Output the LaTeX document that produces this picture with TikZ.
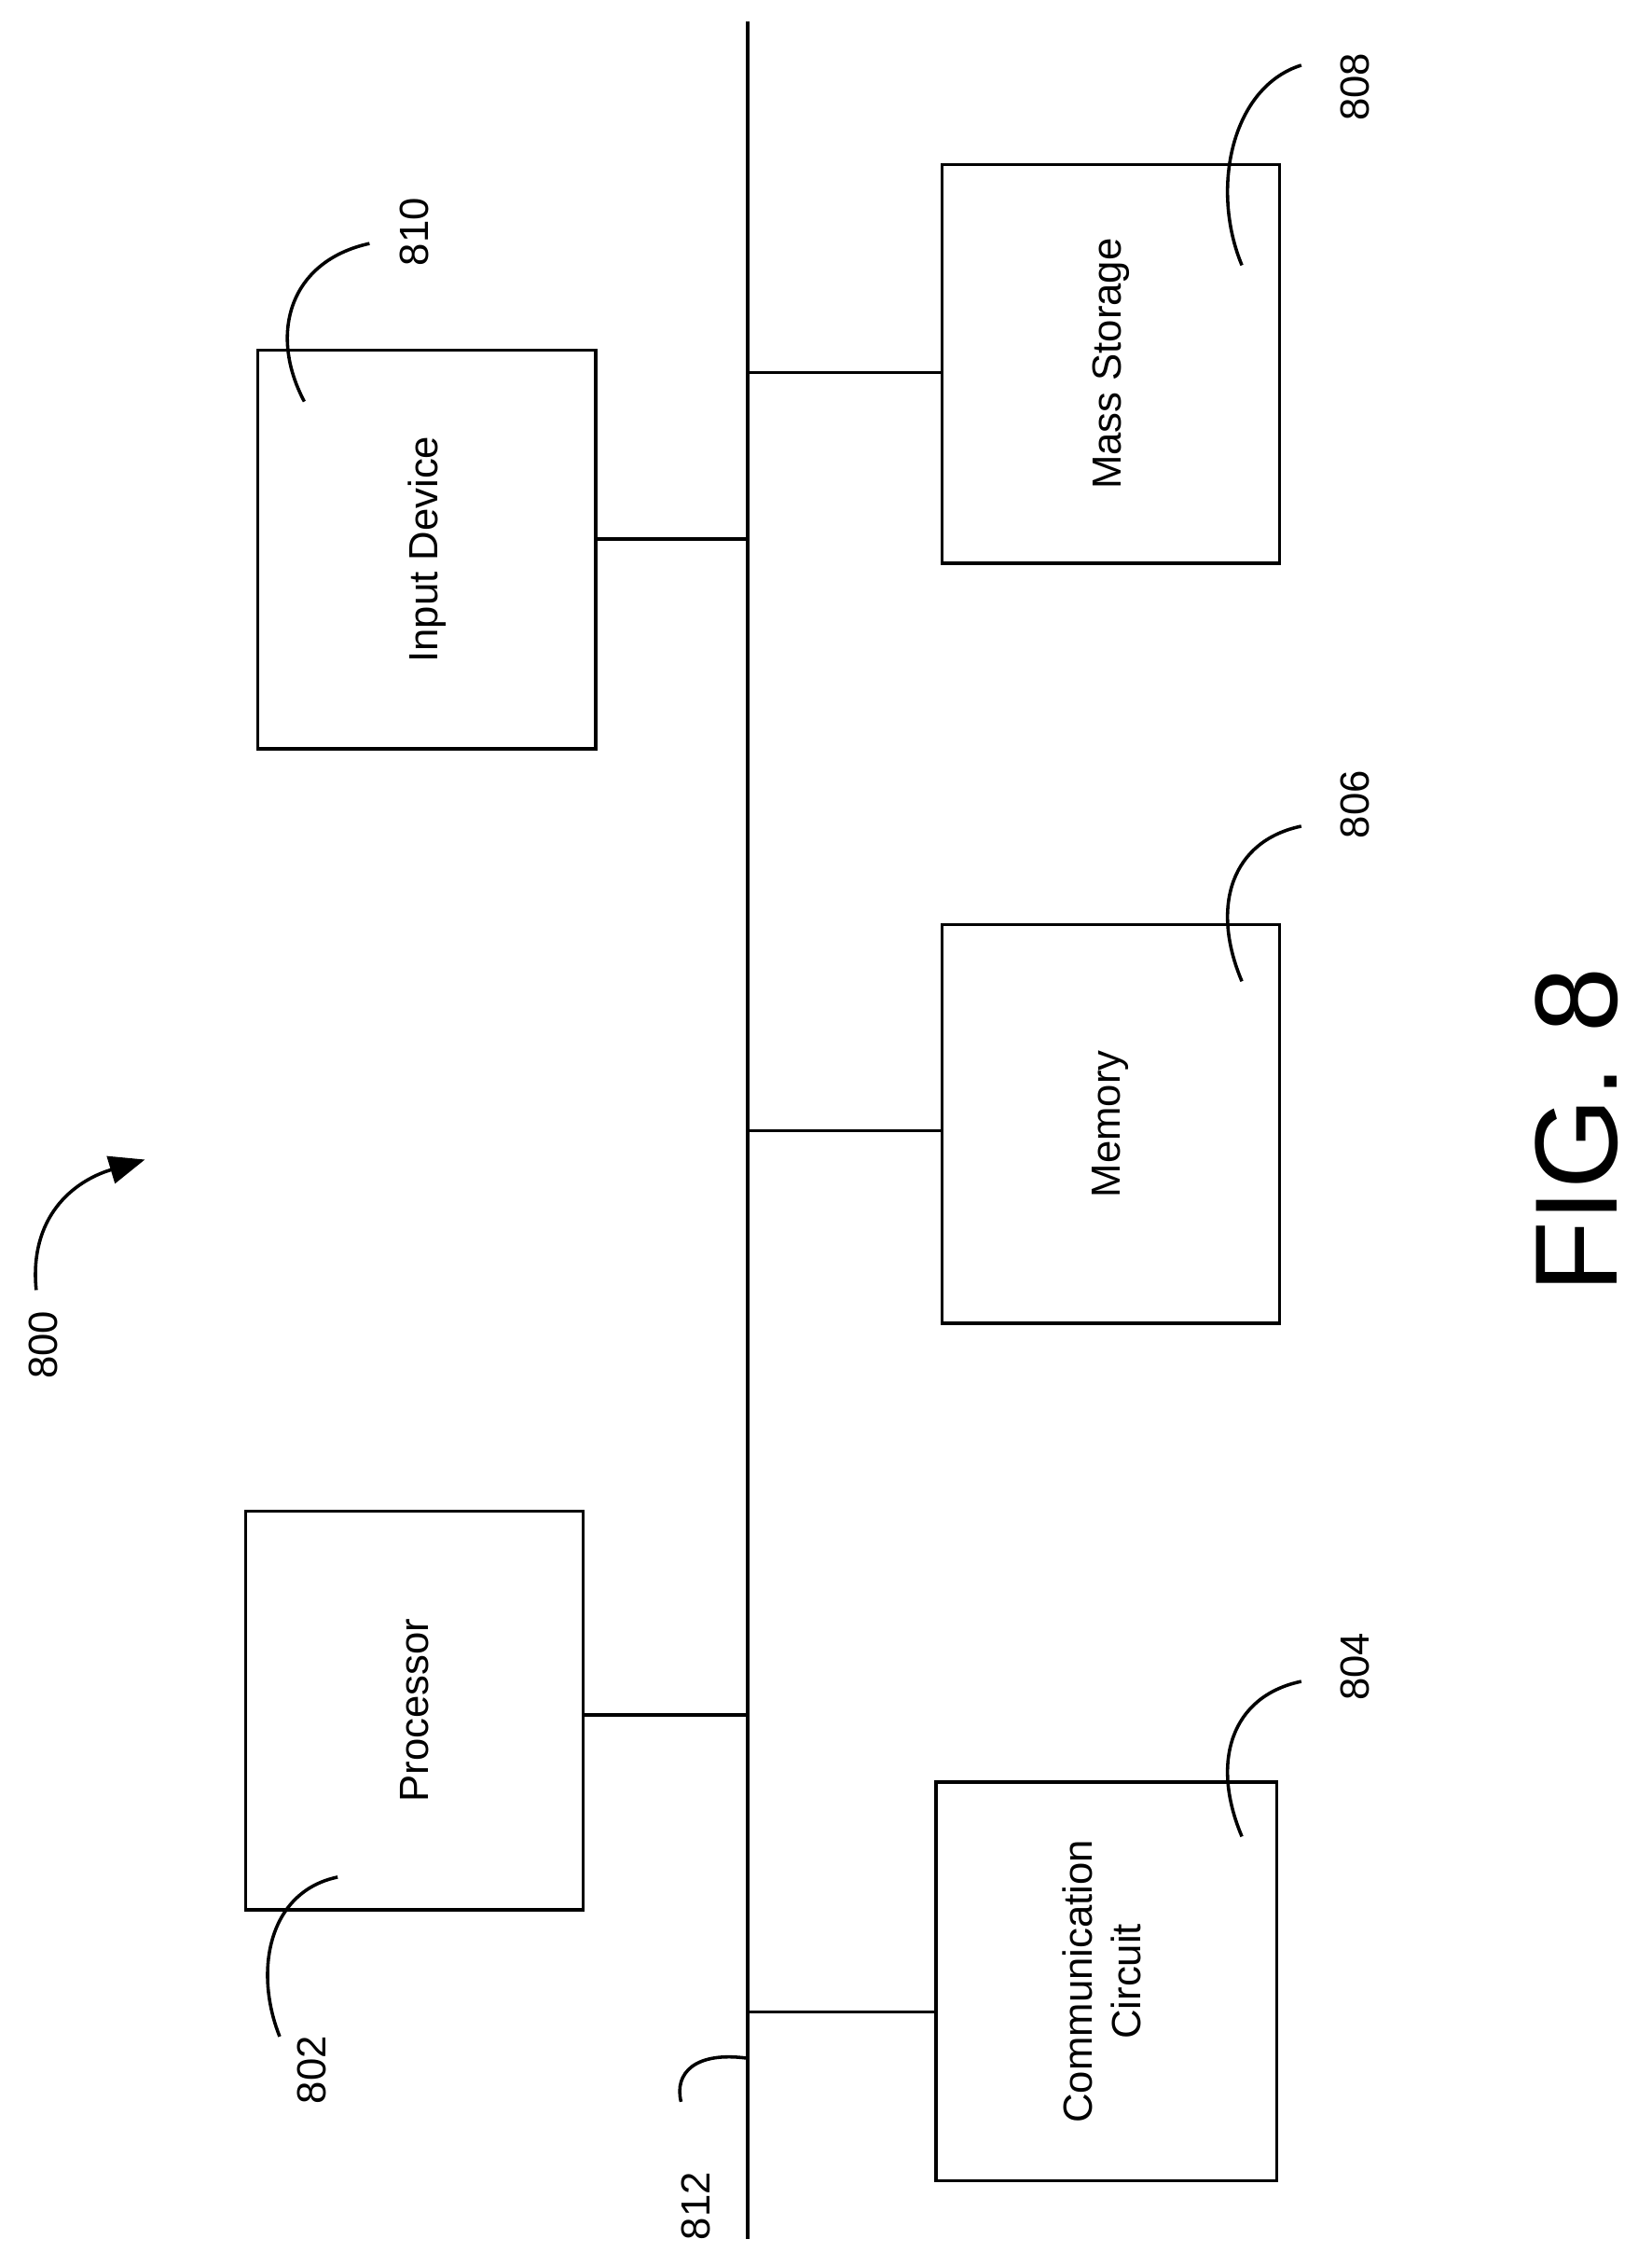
\documentclass[tikz,border=0pt]{standalone}
\usepackage{fontspec}
\setmainfont{Liberation Sans}
\usetikzlibrary{arrows.meta}

\begin{document}
\begin{tikzpicture}[x=0.02cm, y=-0.02cm,
    block/.style={draw, line width=1.3pt, rectangle, minimum width=4.66cm, minimum height=5.5cm, inner sep=0pt, align=center, font=\fontsize{16}{19}\selectfont},
    lbl/.style={rotate=90, font=\fontsize{16}{19}\selectfont},
    lead/.style={line width=1.3pt}]
    \useasboundingbox (0,0) rectangle (1140,1564);

    % bus
    \coordinate (bustop) at (516,15);
    \coordinate (busbot) at (516,1545);
    \draw[lead] (bustop) -- (busbot);

    \node[block] (input) at (294.5,379) {\rotatebox{90}{Input Device}};
    \node[block] (mass) at (766.5,251) {\rotatebox{90}{Mass Storage}};
    \node[block] (memory) at (766.5,775.5) {\rotatebox{90}{Memory}};
    \node[block] (proc) at (286,1180) {\rotatebox{90}{Processor}};
    \node[block, minimum width=4.7cm] (comm) at (763.5,1367) {\rotatebox{90}{\begin{tabular}{c}Communication\\Circuit\end{tabular}}};

    % connectors
    \coordinate (t1) at (516,372);
    \coordinate (t2) at (516,257);
    \coordinate (t3) at (516,780);
    \coordinate (t4) at (516,1183);
    \coordinate (t5) at (516,1388);
    \draw[lead] (input.east |- t1) -- (t1);
    \draw[lead] (t2) -- (mass.west |- t2);
    \draw[lead] (t3) -- (memory.west |- t3);
    \draw[lead] (proc.east |- t4) -- (t4);
    \draw[lead] (t5) -- (comm.west |- t5);

    % reference numerals
    \node[lbl] (n810) at (286,160) {810};
    \node[lbl] (n808) at (935,60) {808};
    \node[lbl] (n806) at (935,555) {806};
    \node[lbl] (n804) at (935,1150) {804};
    \node[lbl] (n802) at (215,1428) {802};
    \node[lbl] (n812) at (480,1522) {812};
    \node[lbl] (n800) at (30,928) {800};
    \node[rotate=90, font=\fontsize{46}{55}\selectfont] (fig) at (1088,780) {FIG. 8};

    \draw[lead] (210,277) .. controls (185,230) and (200,180) .. (255,168);
    \draw[lead] (857,183) .. controls (835,130) and (850,60) .. (898,45);
    \draw[lead] (857,677) .. controls (835,625) and (850,580) .. (898,570);
    \draw[lead] (857,1267) .. controls (835,1215) and (850,1170) .. (898,1160);
    \draw[lead] (233,1295) .. controls (185,1305) and (175,1360) .. (193,1405);
    \draw[lead] (516,1420) .. controls (480,1415) and (465,1430) .. (470,1450);
    \draw[lead, -{Triangle[length=14pt, width=11pt]}] (25,890) .. controls (20,840) and (50,815) .. (100,800);
\end{tikzpicture}
\end{document}
